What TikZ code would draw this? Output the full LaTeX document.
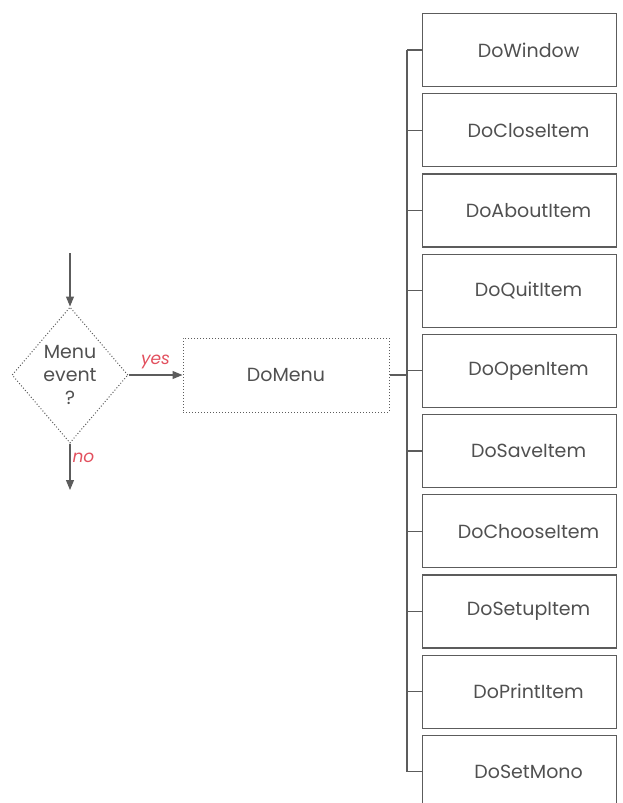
\documentclass[tikz,border=0pt]{standalone}
\usepackage{fontspec}
\setmainfont{Poppins}
\usetikzlibrary{shapes.geometric,arrows.meta}
\definecolor{linegray}{HTML}{5C5C5C}
\definecolor{textgray}{HTML}{505050}
\definecolor{answerred}{HTML}{E2505E}
\tikzset{
  routine/.style={draw=linegray, line width=1.2pt, minimum width=194pt,
    minimum height=73pt, inner sep=0pt, text=textgray,
    execute at begin node=\hspace*{18pt}},
  dotbox/.style={draw=linegray, dotted, line width=1pt, minimum width=206pt,
    minimum height=74pt, inner sep=0pt, text=textgray},
  decision/.style={diamond, draw=linegray, dotted, line width=1pt, aspect=0.85,
    inner sep=0pt, minimum width=116pt, minimum height=136pt, align=center,
    text=textgray},
  flow/.style={draw=linegray, line width=1.1pt, -{Triangle[length=10pt,width=8pt]}},
  branch/.style={draw=linegray, line width=1.1pt},
  answer/.style={text=answerred, font=\fontsize{17}{20}\selectfont\itshape}
}
\begin{document}
\begin{tikzpicture}[x=1pt, y=-1pt, font=\fontsize{19}{23}\selectfont]
  \useasboundingbox (0,0) rectangle (623,803);
  \clip (0,0) rectangle (623,803);
  % decision
  \node[decision] (menuq) at (70,375) {Menu\\event\\?};
  \coordinate (entry) at (70,253);
  \coordinate (exit) at (70,490);
  \draw[flow] (entry) -- (menuq.north);
  \draw[flow] (menuq.south) -- (exit) node[pos=0.3, right, inner sep=2pt, answer] {no};
  \node[dotbox] (domenu) at (286,375) {DoMenu};
  \draw[flow] (menuq.east) -- (domenu.west) node[midway, above, inner sep=6pt, answer] {yes};
  % menu item routines
  \coordinate (trunk) at (407,0);
  \foreach \name [count=\i] in {DoWindow, DoCloseItem, DoAboutItem, DoQuitItem,
      DoOpenItem, DoSaveItem, DoChooseItem, DoSetupItem, DoPrintItem, DoSetMono} {
    \node[routine, anchor=west] (r\i) at (422,{50+80.2*(\i-1)}) {\name};
    \draw[branch] (r\i.west) -- (r\i.west -| trunk);
  }
  \draw[branch] (r1.west -| trunk) -- (r10.west -| trunk);
  \draw[branch] (domenu.east) -- (domenu.east -| trunk);
\end{tikzpicture}
\end{document}
